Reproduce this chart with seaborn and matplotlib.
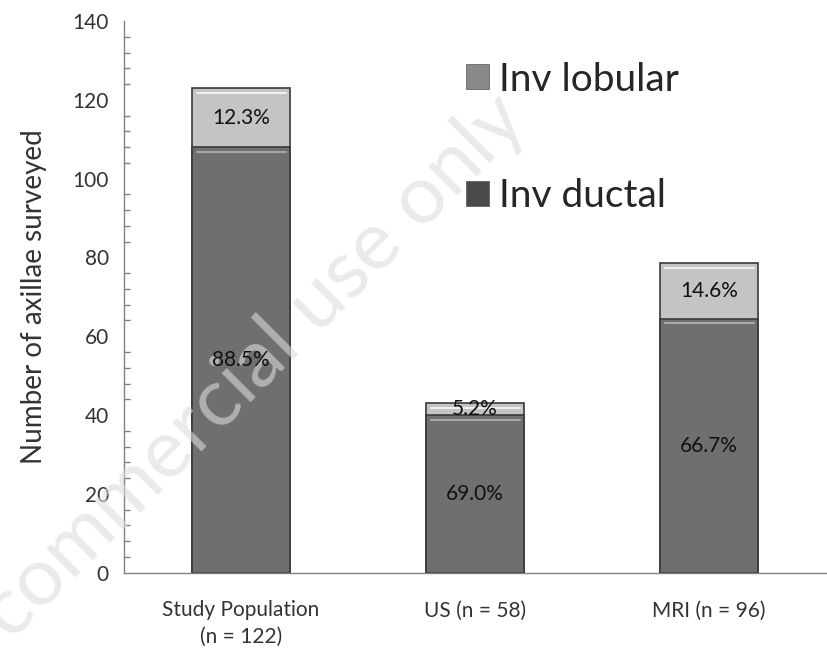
import numpy as np
import pandas as pd
import matplotlib.pyplot as plt
import seaborn as sns
from matplotlib.ticker import MultipleLocator, FixedLocator

categories = ['Study Population\n(n = 122)', 'US (n = 58)', 'MRI (n = 96)']
ductal = [108, 40, 64.5]
lobular = [15, 3, 14]
ductal_pct = ['88.5%', '69.0%', '66.7%']
lobular_pct = ['12.3%', '5.2%', '14.6%']

df = pd.DataFrame({'group': categories, 'ductal': ductal, 'lobular': lobular})
df['total'] = df['ductal'] + df['lobular']

sns.set_style('white')
plt.rcParams['font.family'] = ['Lato', 'DejaVu Sans']

fig = plt.figure(figsize=(8.27, 6.56), dpi=100)
ax = fig.add_axes([0.15, 0.127, 0.849, 0.841])

# totals first (lobular colour), then ductal over it
sns.barplot(data=df, x='group', y='total', color='#c4c4c4', width=0.42,
            saturation=1, edgecolor='#3a3a3a', linewidth=1.2, ax=ax, label='Inv lobular')
sns.barplot(data=df, x='group', y='ductal', color='#6f6f6f', width=0.42,
            saturation=1, edgecolor='#3a3a3a', linewidth=1.2, ax=ax, label='Inv ductal')

# thin highlight at the top of each segment
for i in range(len(df)):
    ax.plot([i - 0.19, i + 0.19], [df['ductal'][i] - 1.2] * 2, color='#a8a8a8', lw=1.5)
    ax.plot([i - 0.19, i + 0.19], [df['total'][i] - 1.2] * 2, color='#f0f0f0', lw=1.5)

for i in range(len(df)):
    ax.text(i, df['ductal'][i] / 2, ductal_pct[i], ha='center', va='center',
            fontsize=15, color='#111111', zorder=5)
    ax.text(i, df['ductal'][i] + df['lobular'][i] / 2, lobular_pct[i], ha='center',
            va='center', fontsize=15, color='#111111', zorder=5)

ax.set_ylim(0, 140)
ax.set_xlim(-0.5, 2.5)
ax.yaxis.set_major_locator(MultipleLocator(20))
ax.yaxis.set_minor_locator(MultipleLocator(4))
ax.xaxis.set_minor_locator(FixedLocator([-0.5, 0.5, 1.5, 2.5]))
ax.tick_params(axis='y', which='major', direction='inout', length=12, width=1,
               color='#808080', labelsize=15, labelcolor='#333333', pad=5)
ax.tick_params(axis='y', which='minor', direction='in', length=4, width=1, color='#808080', left=True)
ax.tick_params(axis='x', which='major', length=0, labelsize=15, labelcolor='#333333', pad=20)
ax.tick_params(axis='x', which='minor', direction='out', length=8, width=1, color='#808080')
for lbl in ax.get_xticklabels():
    lbl.set_linespacing(1.4)

for s in ['top', 'right']:
    ax.spines[s].set_visible(False)
for s in ['left', 'bottom']:
    ax.spines[s].set_color('#808080')
    ax.spines[s].set_linewidth(1)

ax.set_xlabel('')
ax.set_ylabel('Number of axillae surveyed', fontsize=20, color='#333333', labelpad=18)

handles, labels = ax.get_legend_handles_labels()
order = [labels.index('Inv lobular'), labels.index('Inv ductal')]
leg = ax.legend([handles[k] for k in order], [labels[k] for k in order], frameon=False,
                fontsize=28, loc='upper left', bbox_to_anchor=(0.437, 0.99),
                labelspacing=2.08, handlelength=0.6, handleheight=0.6, handletextpad=0.25)
for patch, fc in zip(leg.get_patches(), ['#8a8a8a', '#4a4a4a']):
    patch.set_facecolor(fc)
    patch.set_edgecolor('#555555')
    patch.set_linewidth(0.5)

ax.text(0.185, 0.287, 'Not for commercial use only', transform=fig.transFigure,
        rotation=45, fontsize=59, color='#dcdcdc', alpha=0.6, ha='center',
        va='center', zorder=4, clip_on=False)

fig.savefig('out.png', dpi=100)
